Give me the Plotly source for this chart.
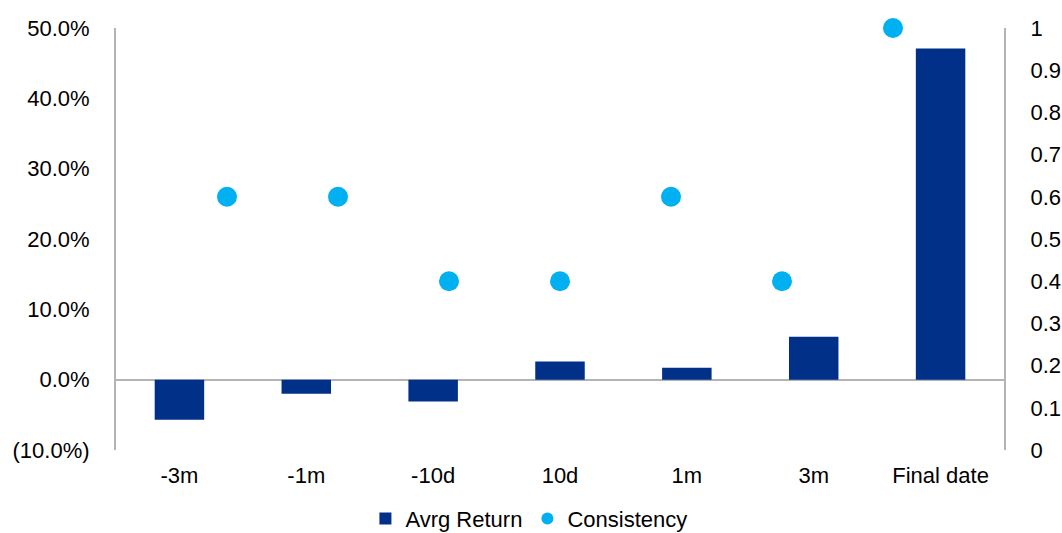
import plotly.graph_objects as go

categories = ["-3m", "-1m", "-10d", "10d", "1m", "3m", "Final date"]
avrg_return = [-0.057, -0.020, -0.031, 0.026, 0.017, 0.061, 0.471]
consistency = [0.6, 0.6, 0.4, 0.4, 0.6, 0.4, 1.0]
consistency_pos = [1, 2, 3, 4, 5, 6, 7]

left_ticks = [-0.1, 0.0, 0.1, 0.2, 0.3, 0.4, 0.5]
left_labels = ["(10.0%)", "0.0%", "10.0%", "20.0%", "30.0%", "40.0%", "50.0%"]
right_ticks = [0, 0.1, 0.2, 0.3, 0.4, 0.5, 0.6, 0.7, 0.8, 0.9, 1]
right_labels = ["0", "0.1", "0.2", "0.3", "0.4", "0.5", "0.6", "0.7", "0.8", "0.9", "1"]

BAR = "#003087"
DOT = "#00B0F0"
AXIS = "#B4B4B4"
FONT = "Liberation Sans, Arial, sans-serif"

fig = go.Figure()
fig.add_trace(go.Bar(
    x=categories, y=avrg_return, name="Avrg Return",
    marker=dict(color=BAR, line=dict(width=0)), width=0.39,
    xaxis="x", yaxis="y",
))
fig.add_trace(go.Scatter(
    x=consistency_pos, y=consistency, name="Consistency", mode="markers",
    marker=dict(color=DOT, size=20, line=dict(width=0)),
    cliponaxis=False,
    xaxis="x2", yaxis="y2",
))

fig.update_layout(
    width=1062, height=533,
    margin=dict(l=116, r=58, t=28, b=83, autoexpand=False),
    paper_bgcolor="white", plot_bgcolor="white",
    font=dict(family=FONT, size=22, color="#000000"),
    showlegend=True,
    legend=dict(
        orientation="h",
        x=0.465, xanchor="center", y=-0.163, yanchor="middle",
        font=dict(size=22), itemsizing="constant", traceorder="normal",
        itemwidth=30, tracegroupgap=0, bgcolor="rgba(0,0,0,0)",
    ),
    xaxis=dict(
        type="category", range=[-0.5, 6.5], showgrid=False, zeroline=False,
        showline=False, ticks="", ticklabelstandoff=10, automargin=False,
        tickfont=dict(size=22),
    ),
    xaxis2=dict(
        overlaying="x", range=[0, 8], visible=False, showgrid=False,
        zeroline=False, automargin=False,
    ),
    yaxis=dict(
        range=[-0.1, 0.5], tickvals=left_ticks, ticktext=left_labels,
        showgrid=False, zeroline=True, zerolinecolor=AXIS, zerolinewidth=2,
        showline=True, linecolor=AXIS, linewidth=2, ticks="",
        ticklabelstandoff=20, tickfont=dict(size=22), automargin=False,
    ),
    yaxis2=dict(
        overlaying="y", side="right", range=[0, 1],
        tickvals=right_ticks, ticktext=right_labels,
        showgrid=False, zeroline=False, showline=True, linecolor=AXIS,
        linewidth=2, ticks="", ticklabelstandoff=20, tickfont=dict(size=22),
        automargin=False,
    ),
    bargap=0.61,
)

fig.write_html("out.html")
